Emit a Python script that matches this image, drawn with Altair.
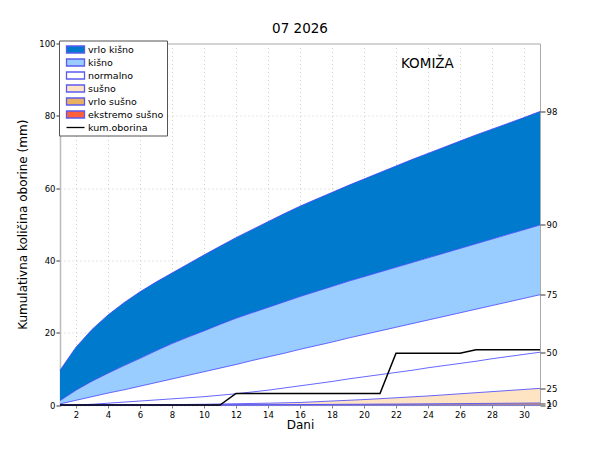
import altair as alt
import pandas as pd

days = list(range(1, 32))
p98 = [9.6, 16.0, 20.9, 24.9, 28.3, 31.3, 34.0, 36.5, 39.0, 41.5, 43.9, 46.3, 48.5, 50.7, 52.9, 55.0,
       56.9, 58.8, 60.7, 62.5, 64.3, 66.1, 67.9, 69.6, 71.3, 73.0, 74.7, 76.3, 77.9, 79.5, 81.2]
p90 = [1.2, 4.1, 6.6, 8.8, 10.9, 12.9, 15.0, 17.0, 18.8, 20.5, 22.3, 24.0, 25.5, 27.0, 28.5, 30.0,
       31.4, 32.8, 34.2, 35.5, 36.8, 38.1, 39.4, 40.7, 42.0, 43.3, 44.6, 45.9, 47.2, 48.5, 49.8]
p75 = [0.3, 1.3, 2.3, 3.3, 4.2, 5.2, 6.2, 7.2, 8.2, 9.2, 10.2, 11.2, 12.3, 13.3, 14.3, 15.4,
       16.4, 17.4, 18.5, 19.5, 20.5, 21.5, 22.5, 23.5, 24.5, 25.5, 26.5, 27.5, 28.5, 29.5, 30.5]
p50 = [0.0, 0.0, 0.2, 0.5, 0.8, 1.1, 1.4, 1.7, 2.0, 2.3, 2.7, 3.1, 3.6, 4.1, 4.7, 5.3,
       5.9, 6.5, 7.2, 7.8, 8.4, 9.0, 9.6, 10.3, 10.9, 11.5, 12.1, 12.8, 13.4, 14.0, 14.6]
p25 = [0.0, 0.0, 0.0, 0.0, 0.0, 0.02, 0.05, 0.1, 0.15, 0.2, 0.28, 0.35, 0.42, 0.5, 0.6, 0.7,
       0.9, 1.1, 1.3, 1.5, 1.75, 2.0, 2.25, 2.5, 2.8, 3.1, 3.4, 3.7, 4.0, 4.3, 4.6]
p10 = [0.0, 0.0, 0.0, 0.0, 0.0, 0.0, 0.0, 0.0, 0.0, 0.0, 0.02, 0.04, 0.06, 0.08, 0.1, 0.12,
       0.15, 0.17, 0.2, 0.22, 0.25, 0.27, 0.3, 0.33, 0.36, 0.39, 0.42, 0.45, 0.48, 0.52, 0.55]
p2 = [0.0] * 31
kum_oborina = [0.0, 0.0, 0.0, 0.0, 0.0, 0.0, 0.0, 0.0, 0.0, 0.0, 0.0,
               3.2, 3.2, 3.2, 3.2, 3.2, 3.2, 3.2, 3.2, 3.2, 3.2,
               14.3, 14.3, 14.3, 14.3, 14.3,
               15.3, 15.3, 15.3, 15.3, 15.3]

band_names = ["vrlo kišno", "kišno", "normalno", "sušno", "vrlo sušno", "ekstremo sušno"]
band_colors = ["#007acc", "#99ccff", "#ffffff", "#ffe4c4", "#e8b060", "#ff5f3a"]
line_name = "kum.oborina"
pct_labels = ["98", "90", "75", "50", "25", "10", "2"]
pct_series = [p98, p90, p75, p50, p25, p10, p2]
zeros = [0.0] * 31
band_hi = [p98, p90, p75, p25, p10, p2]
band_lo = [p90, p75, p25, p10, p2, zeros]

title_text = "07 2026"
station = "KOMIŽA"

# tables
band_rows = []
for name, hi, lo in zip(band_names, band_hi, band_lo):
    for d, h, l in zip(days, hi, lo):
        band_rows.append({"day": d, "hi": h, "lo": l, "cat": name})
bands = pd.DataFrame(band_rows)

pct_rows = []
for lab, ser in zip(pct_labels, pct_series):
    for d, v in zip(days, ser):
        pct_rows.append({"day": d, "val": v, "pct": lab})
pcts = pd.DataFrame(pct_rows)

kum = pd.DataFrame({"day": days, "val": kum_oborina, "cat": [line_name] * 31})

legend_df = pd.concat([
    bands.rename(columns={"hi": "val"})[["day", "val", "cat"]],
    kum[["day", "val", "cat"]],
], ignore_index=True)

cats = band_names + [line_name]
fill_range = band_colors + ["transparent"]
stroke_range = ["#5b5bf0"] * 6 + ["#000000"]
rect_path = "M-1.8,-0.7H1.8V0.7H-1.8Z"
line_path = "M-1.8,0H1.8"
shape_range = [rect_path] * 6 + [line_path]

FONT = "DejaVu Sans"

xenc = alt.X("day:Q", scale=alt.Scale(domain=[1, 31], nice=False, zero=False),
             axis=alt.Axis(values=list(range(2, 31, 2)), title="Dani", grid=True,
                           gridDash=[1, 3], gridColor="#cfcfcf", labelFontSize=8.5,
                           titleFontSize=12, titleFontWeight="normal", titlePadding=1,
                           tickSize=3, domain=False, labelPadding=2))
yscale = alt.Scale(domain=[0, 100], nice=False, zero=True)
yaxis_left = alt.Axis(values=[0, 20, 40, 60, 80, 100], title="Kumulativna količina oborine (mm)",
                      grid=True, gridDash=[1, 3], gridColor="#cfcfcf", labelFontSize=8.5,
                      titleFontSize=12, titleFontWeight="normal", titlePadding=9,
                      tickSize=4, tickColor="#333333", domainColor="#bbbbbb",
                      domainWidth=1.5, labelPadding=1)

area_layers = []
for i, (name, col) in enumerate(zip(band_names, band_colors)):
    area_layers.append(
        alt.Chart(bands).transform_filter(alt.datum.cat == name)
        .mark_area(interpolate="linear", strokeWidth=0, color=col, opacity=1)
        .encode(
            x=xenc,
            y=alt.Y("hi:Q", scale=yscale, axis=yaxis_left if i == 0 else None),
            y2="lo:Q",
        )
    )

right_vals = [s[-1] for s in pct_series]
expr = "''"
for v, lab in reversed(list(zip(right_vals, pct_labels))):
    expr = f"datum.value == {v} ? '{lab}' : ({expr})"

lines = alt.Chart(pcts).mark_line(color="#4040ff", strokeWidth=0.8).encode(
    x=xenc,
    y=alt.Y("val:Q", scale=yscale,
            axis=alt.Axis(orient="right", values=right_vals, labelExpr=expr, title=None,
                          grid=False, domain=False, tickSize=5, tickColor="#333333",
                          labelFontSize=8.5, labelOverlap=False, labelPadding=1,
                          labelBound=False)),
    detail="pct:N",
)

kum_line = alt.Chart(kum).mark_line(color="#000000", strokeWidth=1.5).encode(
    x=xenc,
    y=alt.Y("val:Q", scale=yscale, axis=None),
)

legend_pts = alt.Chart(legend_df).mark_point(filled=True, opacity=0).encode(
    x=xenc,
    y=alt.Y("val:Q", scale=yscale, axis=None),
    fill=alt.Fill("cat:N", scale=alt.Scale(domain=cats, range=fill_range),
                  legend=alt.Legend(title=None, orient="none", legendX=-1, legendY=-3)),
    stroke=alt.Stroke("cat:N", scale=alt.Scale(domain=cats, range=stroke_range)),
    shape=alt.Shape("cat:N", scale=alt.Scale(domain=cats, range=shape_range)),
)

station_df = pd.DataFrame({"station": [station]})
label = alt.Chart(station_df).mark_text(align="left", baseline="middle", fontSize=13.5,
                                         font=FONT, color="#000000").encode(
    x=alt.value(341), y=alt.value(20.5), text="station:N")

chart = alt.layer(*area_layers, lines, kum_line, legend_pts, label).resolve_axis(
    y="independent"
).properties(
    width=480, height=361.5,
    title=alt.TitleParams(title_text, fontSize=13.5, fontWeight="normal", font=FONT,
                          anchor="middle", frame="group", offset=4),
    autosize=alt.AutoSizeParams(type="none"),
    padding={"left": 52, "top": 35.5, "right": 44, "bottom": 37},
).configure(font=FONT).configure_view(stroke="#aaaaaa", strokeWidth=1).configure_axis(
    labelFont=FONT, titleFont=FONT, labelColor="#000000", titleColor="#000000"
).configure_legend(
    symbolOpacity=1, symbolFillColor="#ffffff", symbolSize=100, symbolStrokeWidth=1.3,
    labelFontSize=9.5, labelFont=FONT, rowPadding=-1.8, padding=3, symbolOffset=7.5,
    labelOffset=6.5, strokeColor="#555555", fillColor="#ffffff"
)

chart.save("out.html", embed_options={"renderer": "svg", "actions": False})
